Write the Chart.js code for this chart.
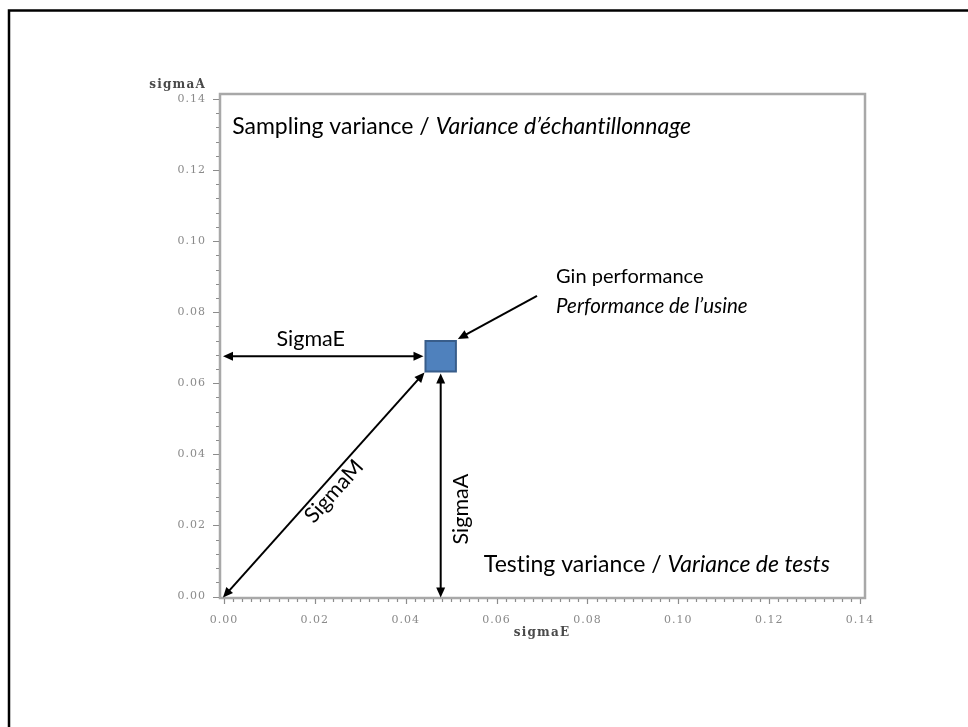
<!DOCTYPE html>
<html>
<head>
<meta charset="utf-8">
<title>Variance components</title>
<script src="https://cdn.jsdelivr.net/npm/chart.js@4/dist/chart.umd.min.js"></script>
<style>
  html, body { margin: 0; padding: 0; background: #ffffff; }
  canvas { display: block; }
</style>
</head>
<body>
<canvas id="chart" width="968" height="727"></canvas>
<script>
// Gin performance point: testing (sigmaE) and sampling (sigmaA) standard deviations
const sigmaE = [0.0477];
const sigmaA = [0.0676];

// Axis tick values and titles
const tickValues = [0, 0.02, 0.04, 0.06, 0.08, 0.10, 0.12, 0.14];
const xTitle = 'sigmaE';
const yTitle = 'sigmaA';

// Annotation texts
const samplingText = ['Sampling variance / ', 'Variance d\u2019\u00e9chantillonnage'];
const testingText = ['Testing variance / ', 'Variance de tests'];
const ginText = ['Gin performance', 'Performance de l\u2019usine'];
const armLabels = ['SigmaE', 'SigmaM', 'SigmaA'];

const NOTE_FONT = '"Lato", "Open Sans", sans-serif';
const TICK_FONT = '"DejaVu Serif", "Liberation Serif", serif';

function drawArrowHead(ctx, fromX, fromY, toX, toY) {
  const ang = Math.atan2(toY - fromY, toX - fromX);
  const len = 10, half = 4.5;
  ctx.beginPath();
  ctx.moveTo(toX, toY);
  ctx.lineTo(toX - len * Math.cos(ang) + half * Math.sin(ang), toY - len * Math.sin(ang) - half * Math.cos(ang));
  ctx.lineTo(toX - len * Math.cos(ang) - half * Math.sin(ang), toY - len * Math.sin(ang) + half * Math.cos(ang));
  ctx.closePath();
  ctx.fill();
}

function drawArrow(ctx, x1, y1, x2, y2, both) {
  const ang = Math.atan2(y2 - y1, x2 - x1);
  const inset = 8;
  ctx.beginPath();
  ctx.moveTo(both ? x1 + inset * Math.cos(ang) : x1, both ? y1 + inset * Math.sin(ang) : y1);
  ctx.lineTo(x2 - inset * Math.cos(ang), y2 - inset * Math.sin(ang));
  ctx.stroke();
  drawArrowHead(ctx, x1, y1, x2, y2);
  if (both) drawArrowHead(ctx, x2, y2, x1, y1);
}

function drawMixed(ctx, parts, x, y, size) {
  ctx.font = size + 'px ' + NOTE_FONT;
  ctx.fillText(parts[0], x, y);
  const w = ctx.measureText(parts[0]).width;
  ctx.font = 'italic ' + size + 'px ' + NOTE_FONT;
  ctx.fillText(parts[1], x + w, y);
}

const decorations = {
  id: 'decorations',
  beforeDraw(chart) {
    const ctx = chart.ctx;
    ctx.save();
    ctx.fillStyle = '#ffffff';
    ctx.fillRect(0, 0, chart.width, chart.height);
    // page border on the top and left edges
    ctx.strokeStyle = '#000000';
    ctx.lineWidth = 2.5;
    ctx.beginPath();
    ctx.moveTo(9, chart.height);
    ctx.lineTo(9, 10.5);
    ctx.lineTo(chart.width, 10.5);
    ctx.stroke();
    ctx.restore();
    ctx.letterSpacing = '1px';
  },
  beforeDatasetsDraw(chart) {
    const {ctx, chartArea: a, scales: {x, y}} = chart;
    ctx.save();
    ctx.letterSpacing = '0px';
    // plot frame
    ctx.strokeStyle = '#a8a8a8';
    ctx.lineWidth = 2.5;
    ctx.strokeRect(a.left, a.top, a.right - a.left, a.bottom - a.top);
    // tick marks: major every 0.02, minor every 0.002 (x) and 0.004 (y)
    ctx.strokeStyle = '#8c8c8c';
    ctx.lineWidth = 1.2;
    ctx.beginPath();
    for (let i = 0; i <= 70; i++) {
      const px = Math.round(x.getPixelForValue(i * 0.002)) + 0.5;
      const len = i % 10 === 0 ? 5 : 3;
      ctx.moveTo(px, a.bottom + 1);
      ctx.lineTo(px, a.bottom + 1 + len);
    }
    for (let i = 0; i <= 35; i++) {
      const py = Math.round(y.getPixelForValue(i * 0.004)) + 0.5;
      const len = i % 5 === 0 ? 6 : 3;
      ctx.moveTo(a.left - 1, py);
      ctx.lineTo(a.left - 1 - len, py);
    }
    ctx.stroke();
    // axis titles
    ctx.fillStyle = '#4a4a4a';
    ctx.font = 'bold 12px ' + TICK_FONT;
    ctx.letterSpacing = '1.2px';
    ctx.textBaseline = 'middle';
    ctx.textAlign = 'right';
    ctx.fillText(yTitle, a.left - 14, a.top - 9);
    ctx.textAlign = 'center';
    ctx.fillText(xTitle, (x.getPixelForValue(0) + x.getPixelForValue(0.14)) / 2, a.bottom + 35);
    ctx.restore();
  },
  afterDatasetsDraw(chart) {
    const {ctx, scales: {x, y}} = chart;
    const pt = chart.getDatasetMeta(0).data[0];
    const half = Math.SQRT1_2 * pt.options.radius + pt.options.borderWidth / 2;
    const cx = pt.x, cy = pt.y;
    const x0 = x.getPixelForValue(0), y0 = y.getPixelForValue(0);

    ctx.save();
    ctx.letterSpacing = '0px';
    ctx.textRendering = 'optimizeSpeed';
    ctx.strokeStyle = '#000000';
    ctx.fillStyle = '#000000';
    ctx.lineWidth = 2;
    // SigmaE: from the sigmaA axis to the point
    drawArrow(ctx, x0 - 1, cy, cx - half - 1, cy, true);
    // SigmaA: from the sigmaE axis up to the point
    drawArrow(ctx, cx, y0 + 1, cx, cy + half + 1, true);
    // SigmaM: from the origin to the point
    drawArrow(ctx, x0 - 1, y0 + 1, cx - half, cy + half, true);
    // pointer from the gin performance label
    drawArrow(ctx, x.getPixelForValue(0.0689), y.getPixelForValue(0.0846), cx + half + 1, cy - half - 1, false);

    // notes
    ctx.textBaseline = 'middle';
    ctx.textAlign = 'left';
    drawMixed(ctx, samplingText, x.getPixelForValue(0.0018), y.getPixelForValue(0.1321), 23);
    drawMixed(ctx, testingText, x.getPixelForValue(0.0572), y.getPixelForValue(0.0089), 23);
    ctx.font = '20px ' + NOTE_FONT;
    ctx.fillText(ginText[0], x.getPixelForValue(0.0731), y.getPixelForValue(0.0899));
    ctx.font = 'italic 20.5px ' + NOTE_FONT;
    ctx.fillText(ginText[1], x.getPixelForValue(0.0731), y.getPixelForValue(0.0817));

    ctx.font = '21.5px ' + NOTE_FONT;
    ctx.textAlign = 'center';
    ctx.fillText(armLabels[0], x.getPixelForValue(0.0191), y.getPixelForValue(0.0725));
    // SigmaM runs along the diagonal, just below it
    const ang = Math.atan2((cy + half) - y0, (cx - half) - x0);
    ctx.save();
    ctx.translate(x.getPixelForValue(0.0242), y.getPixelForValue(0.0296));
    ctx.rotate(ang);
    ctx.fillText(armLabels[1], 0, 0);
    ctx.restore();
    ctx.save();
    ctx.translate(x.getPixelForValue(0.0522), y.getPixelForValue(0.0246));
    ctx.rotate(-Math.PI / 2);
    ctx.fillText(armLabels[2], 0, 0);
    ctx.restore();
    ctx.restore();
  }
};

const fixedTicks = (scale) => {
  scale.ticks = tickValues.map(v => ({value: v}));
};

new Chart(document.getElementById('chart'), {
  type: 'scatter',
  data: {
    datasets: [{
      label: 'Gin performance',
      data: sigmaE.map((v, i) => ({x: v, y: sigmaA[i]})),
      pointStyle: 'rect',
      pointRadius: 21.5,
      pointHoverRadius: 21.5,
      backgroundColor: '#4f81bd',
      borderColor: '#385d8a',
      borderWidth: 2
    }]
  },
  options: {
    responsive: false,
    animation: false,
    events: [],
    layout: {padding: {top: 94, right: 103, bottom: 0, left: 0}},
    plugins: {legend: {display: false}, tooltip: {enabled: false}},
    scales: {
      x: {
        type: 'linear',
        min: -0.00088,
        max: 0.1411,
        afterBuildTicks: fixedTicks,
        afterFit: (s) => { s.height = 129; },
        grid: {display: false, drawTicks: false},
        border: {display: false},
        ticks: {
          autoSkip: false,
          maxRotation: 0,
          padding: 16,
          color: '#8a8a8a',
          font: {family: TICK_FONT, size: 11},
          callback: (v) => Number(v).toFixed(2)
        }
      },
      y: {
        type: 'linear',
        min: -0.00042,
        max: 0.1414,
        afterBuildTicks: fixedTicks,
        afterFit: (s) => { s.width = 220; },
        grid: {display: false, drawTicks: false},
        border: {display: false},
        ticks: {
          autoSkip: false,
          padding: 14,
          color: '#8a8a8a',
          font: {family: TICK_FONT, size: 11},
          callback: (v) => Number(v).toFixed(2)
        }
      }
    }
  },
  plugins: [decorations]
});
</script>
</body>
</html>
